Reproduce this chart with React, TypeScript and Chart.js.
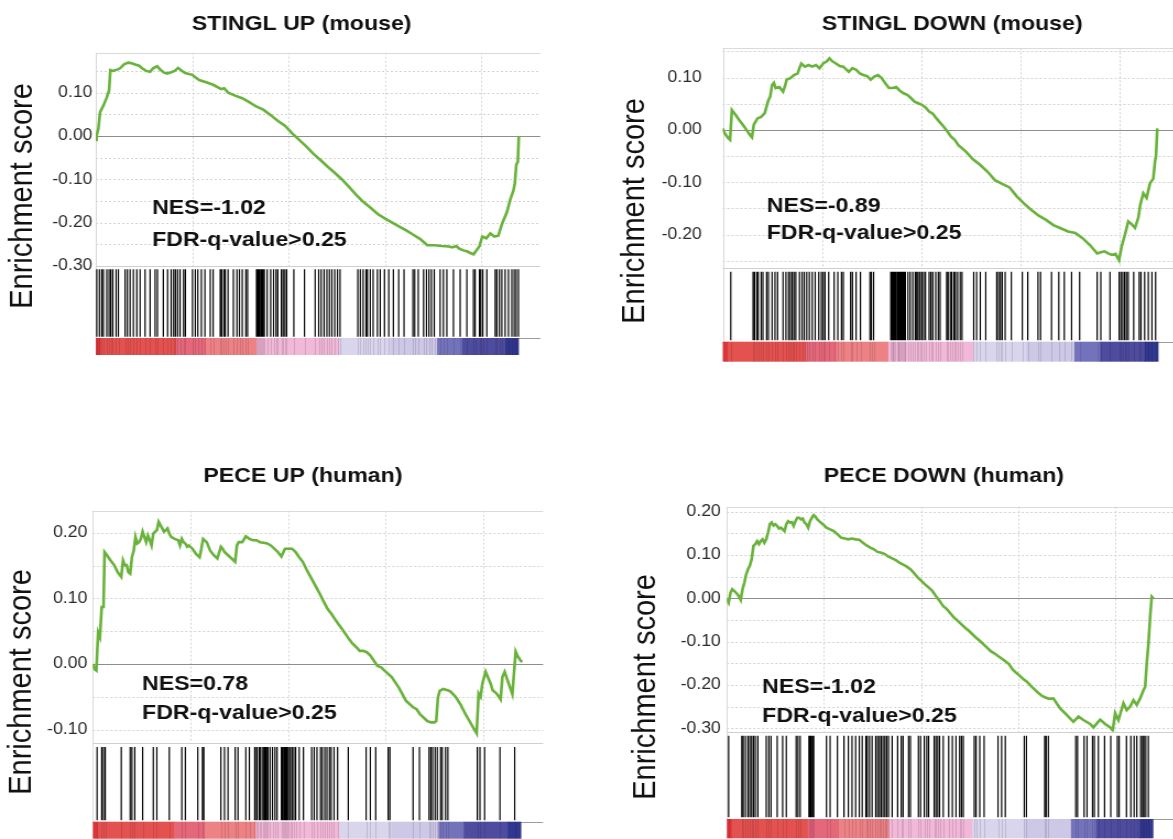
import React, { useEffect, useRef } from 'react';
import { Chart, registerables } from 'chart.js';

Chart.register(...registerables);

const FONT = "'Liberation Sans', Arial, Helvetica, sans-serif";
const LINE_GREEN = '#69b23b';
// Each panel is rendered 10% narrower and widened by CSS (broad lettering).
const STRETCH = 1.1;

// Ranked gene list: x-axis extent and dotted vertical grid (genes)
const RANK_AXIS_MAX = 23070;
const RANK_GRID = [5000, 10000, 15000, 20000];
const FDR_LABEL = 'FDR-q-value>0.25';

// Colour strip of the ranked list (rank breakpoints and block colours)
const RANK_STRIP_BREAKS = [0, 250, 4170, 5710, 8340, 12620, 15300, 17710, 19010, 21250, 21950];
const RANK_STRIP_COLORS = ['#d9363a', '#e4524f', '#e5687a', '#ec8284', '#f1b8d7', '#d8d5ec', '#cdc8e6', '#7373bc', '#4d4c9e', '#30378e'];

// ---------- STINGL UP (mouse) ----------
const STINGL_UP_RANKS = [0, 40, 135, 223, 395, 571, 690, 758, 898, 1106, 1262, 1469, 1677, 1833, 2040, 2248, 2404, 2612, 2820, 2975, 3183, 3339, 3547, 3703, 3910, 4091, 4273, 4481, 4636, 5000, 5363, 5727, 6090, 6505, 6661, 6869, 7233, 7596, 7960, 8323, 8712, 9076, 9439, 9829, 10192, 10556, 10919, 11283, 11672, 12035, 12425, 12788, 13152, 13515, 13878, 14242, 14631, 14995, 15384, 15748, 16111, 16475, 16838, 17201, 17591, 17954, 18318, 18499, 18707, 18863, 19071, 19252, 19434, 19606, 19720, 19902, 20057, 20265, 20473, 20680, 20888, 21080, 21339, 21511, 21667, 21744, 21822, 21900, 21952];
const STINGL_UP_ES = [-0.009, 0.0, 0.017, 0.055, 0.07, 0.089, 0.105, 0.152, 0.15, 0.153, 0.156, 0.165, 0.169, 0.168, 0.165, 0.162, 0.156, 0.15, 0.148, 0.156, 0.161, 0.153, 0.146, 0.144, 0.147, 0.15, 0.157, 0.15, 0.145, 0.141, 0.129, 0.124, 0.118, 0.108, 0.11, 0.1, 0.093, 0.087, 0.078, 0.068, 0.06, 0.048, 0.035, 0.023, 0.006, -0.009, -0.024, -0.041, -0.056, -0.071, -0.086, -0.101, -0.118, -0.136, -0.152, -0.165, -0.18, -0.19, -0.2, -0.209, -0.218, -0.228, -0.238, -0.252, -0.252, -0.254, -0.255, -0.257, -0.254, -0.26, -0.264, -0.266, -0.27, -0.273, -0.266, -0.255, -0.232, -0.236, -0.225, -0.232, -0.23, -0.203, -0.175, -0.146, -0.127, -0.11, -0.066, -0.06, 0.0];
const STINGL_UP_HITS = [52, 187, 311, 394, 571, 690, 778, 882, 1054, 1173, 1521, 1640, 1780, 1951, 2128, 2299, 2559, 2818, 3078, 3197, 3506, 3727, 3911, 4041, 4133, 4244, 4373, 4557, 4649, 5018, 5166, 5295, 5480, 5664, 5941, 6089, 6458, 6531, 6642, 6716, 6863, 7140, 7325, 7454, 7601, 7786, 7878, 8339, 8376, 8432, 8487, 8561, 8616, 8672, 8745, 8893, 9077, 9225, 9354, 9446, 9631, 9723, 9815, 9908, 10277, 10830, 11384, 11568, 11697, 11845, 11993, 12122, 12251, 12398, 12546, 12675, 13598, 13727, 13874, 14022, 14096, 14243, 14391, 14612, 14760, 14981, 15203, 15443, 15719, 15996, 16457, 16550, 16734, 17011, 17159, 17288, 17417, 17564, 17870, 18040, 18217, 18560, 18908, 19255, 19598, 19686, 19909, 19982, 20085, 20293, 20724, 20812, 20947, 21071, 21243, 21414, 21590, 21710, 21813, 21933];
const STINGL_UP_TICKS = [-0.3, -0.2, -0.1, 0, 0.1];
const STINGL_UP_GRID = [-0.25, -0.2, -0.15, -0.1, -0.05, 0.05, 0.1, 0.15];
const STINGL_UP_NES = -1.02;

// ---------- STINGL DOWN (mouse) ----------
const STINGL_DOWN_RANKS = [0, 92, 276, 368, 460, 644, 828, 1012, 1196, 1380, 1472, 1564, 1656, 1748, 1932, 2116, 2208, 2300, 2392, 2484, 2576, 2668, 2852, 3036, 3128, 3220, 3404, 3588, 3772, 3864, 3956, 4140, 4324, 4508, 4692, 4876, 5060, 5244, 5373, 5520, 5704, 5888, 6072, 6348, 6532, 6716, 6900, 7084, 7268, 7452, 7636, 7820, 8004, 8188, 8372, 8556, 8740, 8924, 9108, 9292, 9476, 9660, 9844, 10028, 10212, 10396, 10580, 10764, 10948, 11132, 11316, 11500, 11684, 11868, 12236, 12604, 12972, 13340, 13708, 14076, 14444, 14812, 15180, 15548, 15916, 16284, 16652, 17020, 17388, 17756, 18124, 18492, 18676, 18860, 19044, 19228, 19412, 19596, 19780, 19960, 20089, 20261, 20427, 20593, 20765, 20931, 21032, 21183, 21349, 21521, 21687, 21773, 21823, 21888];
const STINGL_DOWN_ES = [0.003, -0.006, -0.016, -0.019, 0.038, 0.029, 0.019, 0.01, 0.0, -0.01, -0.014, 0.01, 0.016, 0.022, 0.025, 0.032, 0.045, 0.057, 0.064, 0.086, 0.09, 0.08, 0.082, 0.073, 0.083, 0.096, 0.099, 0.105, 0.108, 0.118, 0.127, 0.121, 0.124, 0.121, 0.124, 0.118, 0.127, 0.131, 0.137, 0.131, 0.127, 0.122, 0.121, 0.111, 0.118, 0.115, 0.108, 0.105, 0.103, 0.096, 0.102, 0.105, 0.099, 0.089, 0.08, 0.08, 0.082, 0.075, 0.07, 0.067, 0.061, 0.054, 0.051, 0.048, 0.043, 0.035, 0.031, 0.022, 0.014, 0.006, -0.003, -0.013, -0.019, -0.029, -0.041, -0.056, -0.067, -0.08, -0.096, -0.103, -0.11, -0.127, -0.141, -0.153, -0.164, -0.172, -0.182, -0.188, -0.194, -0.197, -0.207, -0.22, -0.228, -0.236, -0.234, -0.232, -0.236, -0.239, -0.237, -0.249, -0.223, -0.2, -0.175, -0.18, -0.187, -0.168, -0.143, -0.121, -0.13, -0.102, -0.093, -0.06, -0.05, 0.003];
const STINGL_DOWN_HITS = [405, 1527, 1601, 1711, 1785, 1932, 2024, 2208, 2300, 2484, 2631, 2760, 3036, 3183, 3312, 3404, 3496, 3588, 3680, 3864, 3993, 4103, 4232, 4361, 4508, 4655, 4839, 4968, 5060, 5152, 5336, 5612, 5796, 5980, 6072, 6440, 6532, 6716, 6937, 7415, 7489, 7599, 8464, 8519, 8556, 8593, 8648, 8703, 8777, 8832, 8870, 8924, 8960, 9016, 9062, 9108, 9150, 9200, 9329, 9439, 9568, 9697, 9770, 9844, 9936, 10028, 10120, 10212, 10396, 10488, 10580, 10727, 10856, 10948, 11279, 11353, 11463, 11537, 11647, 11721, 11831, 11960, 12052, 12641, 12788, 12972, 13248, 13800, 13892, 13984, 14076, 14223, 14536, 15088, 15364, 15879, 16008, 16560, 16928, 17204, 17572, 17977, 18860, 19044, 19504, 19964, 20056, 20148, 20240, 20332, 20424, 20700, 20976, 21068, 21252, 21436, 21620, 21804];
const STINGL_DOWN_TICKS = [-0.2, -0.1, 0, 0.1];
const STINGL_DOWN_GRID = [-0.25, -0.2, -0.15, -0.1, -0.05, 0.05, 0.1, 0.15];
const STINGL_DOWN_NES = -0.89;

// ---------- PECE UP (human) ----------
const PECE_UP_RANKS = [0, 91, 182, 273, 365, 456, 547, 602, 729, 912, 1094, 1276, 1458, 1550, 1641, 1732, 1823, 1914, 2005, 2096, 2188, 2279, 2370, 2461, 2552, 2643, 2734, 2826, 2917, 3008, 3099, 3190, 3281, 3373, 3464, 3555, 3646, 3737, 3828, 3919, 4011, 4193, 4375, 4466, 4558, 4649, 4740, 4831, 4922, 5104, 5287, 5469, 5560, 5651, 5834, 6016, 6198, 6381, 6563, 6654, 6745, 6927, 7110, 7292, 7383, 7474, 7657, 7839, 8021, 8204, 8386, 8568, 8750, 8933, 9115, 9297, 9480, 9662, 9844, 10027, 10209, 10391, 10573, 10756, 10938, 11120, 11303, 11485, 11667, 11850, 12032, 12214, 12396, 12579, 12761, 12943, 13126, 13308, 13490, 13673, 13855, 14037, 14219, 14402, 14584, 14766, 14949, 15131, 15313, 15496, 15678, 15860, 16042, 16225, 16407, 16589, 16772, 16954, 17136, 17319, 17501, 17592, 17683, 17774, 17957, 18175, 18330, 18586, 18843, 19099, 19356, 19663, 19766, 19868, 19956, 20125, 20382, 20484, 20689, 20894, 20982, 21100, 21305, 21495, 21664, 21767, 21921, 21997];
const PECE_UP_ES = [0.0, -0.008, -0.01, 0.048, 0.041, 0.087, 0.087, 0.171, 0.166, 0.158, 0.151, 0.14, 0.133, 0.158, 0.151, 0.151, 0.14, 0.138, 0.163, 0.173, 0.194, 0.184, 0.186, 0.191, 0.202, 0.194, 0.186, 0.196, 0.189, 0.181, 0.199, 0.202, 0.204, 0.217, 0.212, 0.207, 0.202, 0.204, 0.207, 0.199, 0.194, 0.191, 0.189, 0.181, 0.191, 0.186, 0.184, 0.179, 0.181, 0.176, 0.168, 0.163, 0.176, 0.191, 0.186, 0.173, 0.166, 0.161, 0.179, 0.176, 0.171, 0.166, 0.161, 0.156, 0.181, 0.186, 0.186, 0.195, 0.191, 0.189, 0.189, 0.186, 0.185, 0.184, 0.181, 0.176, 0.171, 0.164, 0.176, 0.176, 0.176, 0.171, 0.163, 0.156, 0.145, 0.135, 0.125, 0.115, 0.105, 0.094, 0.084, 0.077, 0.069, 0.061, 0.054, 0.046, 0.038, 0.031, 0.026, 0.02, 0.02, 0.018, 0.013, 0.005, -0.003, -0.005, -0.01, -0.015, -0.02, -0.028, -0.036, -0.046, -0.056, -0.061, -0.066, -0.069, -0.077, -0.082, -0.087, -0.089, -0.089, -0.087, -0.051, -0.041, -0.038, -0.04, -0.042, -0.05, -0.062, -0.077, -0.09, -0.106, -0.045, -0.05, -0.03, -0.012, -0.03, -0.04, -0.045, -0.054, -0.02, -0.012, -0.03, -0.046, 0.019, 0.012, 0.005, 0.003];
const PECE_UP_HITS = [219, 456, 547, 638, 1458, 1914, 2005, 2151, 2552, 3099, 3281, 3919, 4558, 4740, 5378, 5615, 5688, 6563, 6745, 6927, 7292, 7438, 7839, 8021, 8295, 8386, 8422, 8532, 8605, 8714, 8787, 8842, 8896, 8969, 9078, 9206, 9334, 9443, 9662, 9717, 9790, 9844, 9899, 9954, 10027, 10118, 10209, 10300, 10391, 10573, 10792, 11211, 11339, 11485, 11667, 11758, 11886, 11995, 12123, 12214, 12360, 12542, 13089, 14001, 14219, 14493, 15131, 15222, 16407, 16735, 17227, 17319, 17410, 17537, 17647, 17817, 17904, 18073, 18191, 19699, 19833, 20074, 20859, 21613];
const PECE_UP_TICKS = [-0.1, 0, 0.1, 0.2];
const PECE_UP_GRID = [-0.1, -0.05, 0.05, 0.1, 0.15, 0.2];
const PECE_UP_NES = 0.78;

// ---------- PECE DOWN (human) ----------
const PECE_DOWN_RANKS = [0, 94, 188, 282, 432, 582, 714, 808, 901, 995, 1089, 1183, 1277, 1371, 1465, 1559, 1653, 1747, 1840, 1934, 2028, 2122, 2216, 2310, 2404, 2498, 2592, 2686, 2779, 2873, 2967, 3061, 3155, 3249, 3343, 3437, 3531, 3625, 3718, 3812, 3906, 4000, 4094, 4188, 4282, 4376, 4470, 4564, 4657, 4751, 4939, 5127, 5315, 5503, 5690, 5878, 6066, 6254, 6442, 6629, 6817, 7005, 7193, 7381, 7568, 7756, 7944, 8132, 8320, 8507, 8695, 8883, 9071, 9259, 9446, 9634, 9822, 10010, 10198, 10385, 10573, 10761, 10949, 11137, 11324, 11512, 11700, 11888, 12076, 12263, 12451, 12639, 12827, 13015, 13202, 13390, 13578, 13766, 13954, 14141, 14329, 14517, 14705, 14893, 15080, 15268, 15456, 15644, 15832, 16019, 16207, 16395, 16583, 16804, 17150, 17489, 17834, 18092, 18349, 18694, 18864, 19210, 19467, 19725, 19858, 19982, 20152, 20409, 20579, 20755, 20924, 21094, 21270, 21439, 21527, 21609, 21697, 21784, 21867, 21954];
const PECE_DOWN_ES = [-0.002, -0.01, 0.013, 0.021, 0.015, 0.007, -0.004, 0.021, 0.036, 0.055, 0.067, 0.075, 0.09, 0.121, 0.125, 0.132, 0.125, 0.132, 0.136, 0.128, 0.136, 0.152, 0.171, 0.175, 0.168, 0.171, 0.167, 0.161, 0.163, 0.159, 0.155, 0.171, 0.178, 0.175, 0.176, 0.167, 0.178, 0.186, 0.186, 0.182, 0.184, 0.175, 0.171, 0.163, 0.178, 0.186, 0.192, 0.188, 0.182, 0.178, 0.171, 0.163, 0.159, 0.155, 0.148, 0.14, 0.138, 0.136, 0.138, 0.136, 0.135, 0.128, 0.122, 0.117, 0.113, 0.107, 0.105, 0.102, 0.096, 0.092, 0.088, 0.082, 0.078, 0.073, 0.067, 0.058, 0.048, 0.04, 0.032, 0.025, 0.017, 0.005, -0.006, -0.018, -0.025, -0.035, -0.045, -0.052, -0.06, -0.068, -0.075, -0.083, -0.091, -0.098, -0.106, -0.114, -0.122, -0.127, -0.133, -0.139, -0.145, -0.152, -0.164, -0.172, -0.179, -0.187, -0.193, -0.202, -0.21, -0.218, -0.225, -0.229, -0.232, -0.231, -0.254, -0.269, -0.285, -0.273, -0.281, -0.29, -0.298, -0.28, -0.29, -0.298, -0.305, -0.265, -0.281, -0.242, -0.258, -0.25, -0.235, -0.246, -0.231, -0.212, -0.204, -0.15, -0.104, -0.042, 0.004, 0.0];
const PECE_DOWN_HITS = [94, 770, 845, 958, 1089, 1183, 1277, 1371, 1465, 1596, 2028, 2160, 2272, 2592, 2873, 3061, 3568, 3662, 3775, 4226, 4282, 4338, 4413, 4470, 5127, 5315, 5690, 6028, 6254, 6442, 6629, 6817, 6967, 7155, 7230, 7343, 7474, 7662, 7756, 7850, 7944, 8038, 8132, 8226, 8320, 8507, 8789, 8977, 9071, 9352, 9446, 9860, 9972, 10160, 10291, 10385, 10667, 10761, 10855, 10949, 11137, 11418, 11606, 11794, 11982, 12076, 12169, 12733, 12827, 13015, 13240, 13954, 14141, 14329, 15306, 15418, 16357, 16433, 16545, 17954, 18048, 18386, 18536, 18818, 18911, 19118, 19437, 19757, 20095, 20189, 20564, 20789, 20958, 21097, 21297, 21390, 21466, 21560, 21691];
const PECE_DOWN_TICKS = [-0.3, -0.2, -0.1, 0, 0.1, 0.2];
const PECE_DOWN_GRID = [-0.3, -0.25, -0.2, -0.15, -0.1, -0.05, 0.05, 0.1, 0.15, 0.2];
const PECE_DOWN_NES = -1.02;

// Panel layout, in the canvas' own (unstretched) pixels.
// The lower canvases run past the page edge so the colour strip reaches the bottom.
const PANELS = [
  {
    key: 'stingl-up', title: 'STINGL UP (mouse)',
    ranks: STINGL_UP_RANKS, es: STINGL_UP_ES, hits: STINGL_UP_HITS, ticks: STINGL_UP_TICKS, grid: STINGL_UP_GRID, nes: STINGL_UP_NES,
    esMin: -0.3, esMax: 0.192,
    left: 0, top: 0, width: 546, height: 420,
    axisWidth: 87.0, padRight: 55.1, padTop: 52.7, padBottom: 65, weights: [213.3, 72, 17], tickPad: 3,
    titleX: 274.1, titleY: 29.5, labelX: 20.9, labelY: 196, nesX: 138.2, nesY: 214, fdrY: 246,
  },
  {
    key: 'stingl-down', title: 'STINGL DOWN (mouse)',
    ranks: STINGL_DOWN_RANKS, es: STINGL_DOWN_ES, hits: STINGL_DOWN_HITS, ticks: STINGL_DOWN_TICKS, grid: STINGL_DOWN_GRID, nes: STINGL_DOWN_NES,
    esMin: -0.2645, esMax: 0.156,
    left: 600, top: 0, width: 546, height: 420,
    axisWidth: 111.5, padRight: 18.4, padTop: 48.3, padBottom: 58.3, weights: [220, 73.4, 20], tickPad: 19,
    titleX: 320, titleY: 30, labelX: 32.3, labelY: 211, nesX: 151.5, nesY: 212, fdrY: 239,
  },
  {
    key: 'pece-up', title: 'PECE UP (human)',
    ranks: PECE_UP_RANKS, es: PECE_UP_ES, hits: PECE_UP_HITS, ticks: PECE_UP_TICKS, grid: PECE_UP_GRID, nes: PECE_UP_NES,
    esMin: -0.121, esMax: 0.234,
    left: 0, top: 420, width: 546, height: 440,
    axisWidth: 84.3, padRight: 52.6, padTop: 90.7, padBottom: 21.3, weights: [232.6, 78.4, 17], tickPad: 5,
    titleX: 275.2, titleY: 62, labelX: 20, labelY: 262, nesX: 129.1, nesY: 270, fdrY: 299,
  },
  {
    key: 'pece-down', title: 'PECE DOWN (human)',
    ranks: PECE_DOWN_RANKS, es: PECE_DOWN_ES, hits: PECE_DOWN_HITS, ticks: PECE_DOWN_TICKS, grid: PECE_DOWN_GRID, nes: PECE_DOWN_NES,
    esMin: -0.3079, esMax: 0.2114,
    left: 600, top: 420, width: 546, height: 440,
    axisWidth: 115.2, padRight: 23.5, padTop: 86.7, padBottom: 21.7, weights: [225, 87.3, 19.3], tickPad: 5.5,
    titleX: 312.4, titleY: 62, labelX: 42.3, labelY: 267, nesX: 147.3, nesY: 273, fdrY: 302,
  },
];

function formatScore(v: number) {
  return Math.abs(v) < 1e-9 ? '0.00' : v.toFixed(2);
}

// Grid, frame, colour strip and annotation text for one GSEA panel
function makeDecor(p: any) {
  return {
    id: 'gseaDecor',
    beforeDatasetsDraw(chart: any) {
      const { ctx, chartArea } = chart;
      const xs = chart.scales.x;
      const es = chart.scales.y;
      const hitAxis = chart.scales.yHits;
      const strip = chart.scales.yRank;
      const left = chartArea.left;
      const right = chartArea.right;
      const crisp = (v: number) => Math.round(v) + 0.5;
      const seg = (x1: number, y1: number, x2: number, y2: number) => {
        ctx.beginPath();
        ctx.moveTo(x1, y1);
        ctx.lineTo(x2, y2);
        ctx.stroke();
      };
      ctx.save();
      ctx.lineWidth = 1;
      ctx.strokeStyle = '#d3d3d3';
      ctx.setLineDash([2, 2]);
      for (const v of p.grid) {
        const py = crisp(es.getPixelForValue(v));
        seg(left, py, right, py);
      }
      for (const r of RANK_GRID) {
        const px = crisp(xs.getPixelForValue(r));
        seg(px, es.top, px, es.bottom);
      }
      ctx.setLineDash([]);
      ctx.strokeStyle = '#dadada';
      seg(left, crisp(es.top), right, crisp(es.top));
      seg(crisp(left), es.top, crisp(left), hitAxis.bottom);
      ctx.strokeStyle = '#cfcfcf';
      seg(left, crisp(es.bottom), right, crisp(es.bottom));
      const zero = crisp(es.getPixelForValue(0));
      ctx.strokeStyle = '#8e8e8e';
      seg(left, zero, right, zero);
      ctx.strokeStyle = '#9c9c9c';
      seg(left, crisp(hitAxis.bottom), right, crisp(hitAxis.bottom));

      for (let i = 0; i < RANK_STRIP_COLORS.length; i++) {
        const x1 = xs.getPixelForValue(RANK_STRIP_BREAKS[i]);
        const x2 = xs.getPixelForValue(RANK_STRIP_BREAKS[i + 1]);
        ctx.fillStyle = RANK_STRIP_COLORS[i];
        ctx.fillRect(x1, strip.top, x2 - x1 + (i < RANK_STRIP_COLORS.length - 1 ? 0.6 : 0), strip.bottom - strip.top);
      }
      ctx.strokeStyle = 'rgba(40, 0, 30, 0.13)';
      for (const r of p.hits) {
        const px = crisp(xs.getPixelForValue(r));
        seg(px, strip.top, px, strip.bottom);
      }
      ctx.restore();
    },
    afterDraw(chart: any) {
      const { ctx } = chart;
      ctx.save();
      ctx.fillStyle = '#111';
      ctx.textBaseline = 'alphabetic';
      ctx.textAlign = 'center';
      ctx.font = `bold 21px ${FONT}`;
      ctx.fillText(p.title, p.titleX, p.titleY);
      ctx.textAlign = 'left';
      ctx.fillText(`NES=${p.nes.toFixed(2)}`, p.nesX, p.nesY);
      ctx.fillText(FDR_LABEL, p.nesX, p.fdrY);
      ctx.translate(p.labelX, p.labelY);
      ctx.rotate(-Math.PI / 2);
      ctx.textAlign = 'center';
      ctx.textBaseline = 'middle';
      ctx.font = `29px ${FONT}`;
      ctx.fillText('Enrichment score', 0, 0);
      ctx.restore();
    },
  };
}

function buildConfig(p: any): any {
  const curve = p.ranks.map((r: number, i: number) => ({ x: r, y: p.es[i] }));
  const hitSegments: any[] = [];
  for (const r of p.hits) {
    hitSegments.push({ x: r, y: 0 }, { x: r, y: 1 }, { x: r, y: null });
  }
  return {
    type: 'line',
    data: {
      datasets: [
        {
          label: 'Running enrichment score',
          data: curve,
          yAxisID: 'y',
          borderColor: LINE_GREEN,
          borderWidth: 2.6,
          pointRadius: 0,
          pointHoverRadius: 0,
          tension: 0,
          fill: false,
        },
        {
          label: 'Gene set hits',
          data: hitSegments,
          yAxisID: 'yHits',
          borderColor: '#000',
          borderWidth: 1.2,
          pointRadius: 0,
          pointHoverRadius: 0,
          spanGaps: false,
          fill: false,
        },
      ],
    },
    options: {
      animation: false,
      responsive: false,
      maintainAspectRatio: false,
      events: [],
      layout: {
        autoPadding: false,
        padding: { left: 0, right: p.padRight, top: p.padTop, bottom: p.padBottom },
      },
      plugins: {
        legend: { display: false },
        tooltip: { enabled: false },
        title: { display: false },
      },
      scales: {
        x: { type: 'linear', min: 0, max: RANK_AXIS_MAX, display: false },
        y: {
          type: 'linear',
          position: 'left',
          stack: 'gsea',
          stackWeight: p.weights[0],
          weight: 3,
          min: p.esMin,
          max: p.esMax,
          grid: { display: false, drawTicks: false },
          border: { display: false },
          ticks: {
            autoSkip: false,
            padding: p.tickPad,
            color: '#2b2b2b',
            font: { family: FONT, size: 16 },
            callback: (v: any) => formatScore(Number(v)),
          },
          afterBuildTicks: (axis: any) => {
            axis.ticks = p.ticks.map((value: number) => ({ value }));
          },
          afterFit: (axis: any) => {
            axis.width = p.axisWidth;
          },
        },
        yHits: {
          type: 'linear',
          position: 'left',
          stack: 'gsea',
          stackWeight: p.weights[1],
          weight: 2,
          min: -0.02,
          max: 1.05,
          display: false,
        },
        yRank: {
          type: 'linear',
          position: 'left',
          stack: 'gsea',
          stackWeight: p.weights[2],
          weight: 1,
          min: 0,
          max: 1,
          display: false,
        },
      },
    },
    plugins: [makeDecor(p)],
  };
}

function GseaPanel({ panel }: { panel: any }) {
  const ref = useRef<HTMLCanvasElement | null>(null);
  useEffect(() => {
    if (!ref.current) return;
    const chart = new Chart(ref.current, buildConfig(panel));
    return () => chart.destroy();
  }, [panel]);
  return (
    <canvas
      ref={ref}
      width={panel.width}
      height={panel.height}
      style={{
        position: 'absolute',
        left: panel.left,
        top: panel.top,
        width: `${panel.width * STRETCH}px`,
        height: `${panel.height}px`,
      }}
    />
  );
}

export default function App() {
  return (
    <div
      style={{
        position: 'absolute',
        left: 0,
        top: 0,
        width: 1173,
        height: 839,
        overflow: 'hidden',
        background: '#fff',
      }}
    >
      {PANELS.map((p) => (
        <GseaPanel key={p.key} panel={p} />
      ))}
    </div>
  );
}
